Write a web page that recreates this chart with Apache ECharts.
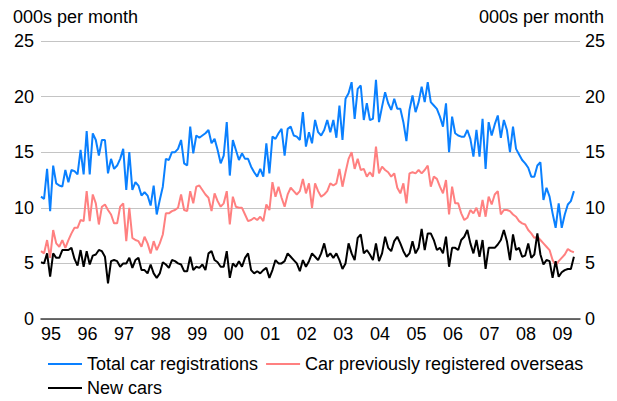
<!DOCTYPE html>
<html>
<head>
<meta charset="utf-8">
<script src="https://cdn.jsdelivr.net/npm/echarts@6/dist/echarts.min.js"></script>
<style>
  html, body { margin: 0; padding: 0; background: #fff; }
  #chart { width: 617px; height: 401px; }
</style>
</head>
<body>
<div id="chart"></div>
<script>
// year labels on the x axis (one every January)
const yearLabels = ['95', '96', '97', '98', '99', '00', '01', '02', '03', '04', '05', '06', '07', '08', '09']
const monthsShown = 178 // axis runs a little past the last observation

// 000s per month, Jan 1995 .. Aug 2009
const totalCars = [
  11.0, 10.8, 13.5, 9.7, 13.8, 12.2, 12.0, 11.9, 13.4, 12.3, 13.4, 13.3,
  13.0, 15.2, 13.0, 16.9, 13.0, 16.7, 16.1, 14.7, 16.1, 16.1, 13.1, 14.4,
  13.5, 13.8, 14.4, 15.3, 11.6, 15.0, 11.6, 12.3, 12.0, 11.1, 11.4, 11.1,
  10.2, 12.0, 9.4, 10.7, 11.9, 14.4, 14.3, 15.0, 15.0, 15.3, 16.1, 14.0,
  13.8, 17.3, 14.9, 16.5, 16.3, 16.5, 16.7, 17.0, 15.8, 16.2, 15.2, 14.0,
  14.7, 17.7, 12.9, 16.1, 15.2, 14.3, 14.9, 14.4, 14.4, 13.7, 13.2, 12.8,
  13.5, 12.8, 15.8, 13.1, 16.4, 16.2, 16.7, 17.1, 14.7, 17.1, 17.3, 16.5,
  16.4, 16.1, 18.6, 15.5, 16.8, 15.8, 17.9, 16.8, 16.5, 17.0, 17.9, 16.8,
  17.9, 16.3, 19.2, 16.1, 19.8, 20.3, 21.3, 18.0, 20.7, 21.0, 17.9, 19.4,
  17.9, 18.0, 21.5, 17.7, 19.1, 20.4, 19.4, 18.8, 19.8, 18.9, 18.9, 17.7,
  16.0, 18.8, 20.1, 18.6, 19.5, 20.9, 19.5, 21.3, 19.5, 19.2, 18.9, 18.2,
  17.3, 19.4, 15.0, 18.2, 16.7, 16.5, 16.4, 16.4, 17.0, 16.2, 14.6, 17.0,
  14.6, 18.0, 13.5, 17.7, 16.5, 17.5, 18.3, 16.3, 17.9, 17.0, 15.0, 17.3,
  15.3, 14.8, 14.3, 14.0, 13.6, 12.8, 12.8, 13.8, 14.1, 10.7, 11.8, 11.0,
  9.5, 8.2, 10.4, 8.2, 9.4, 10.3, 10.6, 11.5
]

const overseasCars = [
  6.1, 5.9, 7.1, 5.5, 8.0, 6.8, 6.5, 7.1, 6.4, 7.1, 7.7, 8.2,
  8.2, 8.9, 8.8, 11.5, 8.8, 11.2, 10.4, 8.5, 10.1, 10.3, 9.8, 9.4,
  8.6, 8.6, 10.1, 10.4, 7.0, 10.0, 7.3, 7.1, 7.0, 6.5, 7.4, 6.8,
  5.9, 7.0, 6.2, 6.8, 7.6, 9.5, 9.5, 9.7, 9.8, 10.0, 11.2, 9.8,
  9.7, 11.5, 10.4, 11.9, 12.0, 11.6, 11.2, 10.9, 9.7, 11.3, 10.6, 10.1,
  10.4, 11.5, 8.5, 11.0, 10.1, 10.0, 10.0, 9.4, 8.8, 8.9, 9.1, 8.9,
  9.2, 8.8, 10.3, 9.8, 12.3, 11.0, 11.9, 10.9, 10.1, 11.2, 11.8, 11.5,
  11.2, 11.5, 12.6, 11.3, 12.2, 10.0, 12.2, 11.5, 11.0, 11.2, 11.5, 12.2,
  12.0, 12.2, 13.5, 11.9, 13.2, 14.4, 15.0, 13.5, 14.4, 13.4, 13.5, 12.8,
  13.2, 12.8, 15.5, 13.1, 13.7, 13.4, 13.2, 12.8, 13.1, 11.8, 11.3, 12.2,
  10.4, 13.1, 13.2, 13.1, 13.4, 13.1, 13.4, 13.8, 11.9, 12.8, 12.6, 11.9,
  11.3, 12.5, 9.4, 11.9, 10.4, 10.4, 9.5, 8.9, 9.1, 9.8, 9.5, 10.0,
  9.2, 10.7, 9.2, 11.0, 10.3, 11.2, 11.5, 9.4, 9.8, 9.8, 9.7, 9.4,
  9.2, 8.8, 8.6, 8.5, 8.0, 7.7, 7.3, 7.4, 7.1, 6.8, 6.5, 6.2,
  5.3, 4.8, 5.2, 5.5, 5.8, 6.3, 6.1, 6.0
]

const newCars = [
  5.1, 5.0, 5.9, 3.8, 5.9, 5.5, 5.5, 6.2, 6.2, 6.2, 6.4, 5.4,
  4.8, 6.2, 4.7, 6.1, 4.9, 5.7, 5.8, 6.2, 6.1, 5.6, 3.2, 5.2,
  5.3, 5.2, 4.7, 5.0, 5.0, 5.5, 4.6, 5.3, 5.5, 4.4, 4.4, 4.1,
  4.9, 4.1, 3.7, 4.1, 5.1, 4.9, 4.6, 5.3, 5.2, 5.0, 4.9, 4.3,
  4.3, 5.6, 4.4, 4.7, 4.6, 4.9, 4.4, 5.9, 6.1, 5.3, 5.1, 4.7,
  4.7, 6.1, 3.7, 5.0, 4.7, 5.2, 4.7, 5.5, 5.9, 4.4, 4.1, 4.3,
  4.1, 4.4, 4.6, 3.7, 4.4, 5.3, 5.0, 5.0, 5.2, 5.9, 5.6, 5.3,
  5.0, 4.3, 5.3, 4.7, 5.2, 5.9, 5.6, 5.3, 5.9, 6.8, 5.6, 5.9,
  5.5, 5.9, 5.3, 4.5, 5.0, 6.8, 5.9, 5.3, 7.3, 7.6, 5.9, 6.2,
  5.8, 5.3, 6.8, 5.2, 5.9, 7.4, 6.4, 6.1, 7.0, 7.4, 6.8, 6.1,
  5.6, 5.9, 7.0, 5.9, 6.4, 8.1, 6.2, 7.7, 7.7, 7.1, 6.2, 6.4,
  5.9, 7.4, 4.7, 6.4, 6.4, 6.2, 7.1, 7.4, 8.0, 6.8, 5.9, 7.1,
  5.6, 7.1, 4.5, 6.4, 6.4, 6.4, 6.7, 7.1, 8.0, 7.0, 5.3, 7.6,
  6.2, 6.4, 5.6, 5.7, 6.8, 5.5, 5.8, 7.7, 5.8, 4.9, 5.3, 5.2,
  3.7, 5.2, 3.8, 4.2, 4.4, 4.5, 4.5, 5.6
]

const yTicks = { min: 0, max: 25, interval: 5 }

// month categories, label shown on each January
const months = []
yearLabels.forEach(y => {
  for (let m = 1; m <= 12; m++) months.push(y + '-' + m)
})
const categories = months.slice(0, monthsShown)

const font = "'Liberation Sans', Arial, sans-serif"
const textStyle = { color: '#000', fontSize: 18, fontFamily: font }

const yAxisBase = {
  type: 'value',
  min: yTicks.min,
  max: yTicks.max,
  interval: yTicks.interval,
  axisLine: { show: false },
  axisTick: { show: false }
}

const option = {
  animation: false,
  backgroundColor: '#fff',
  textStyle: { fontFamily: font },
  grid: { left: 41, right: 37, top: 41, bottom: 82 },
  graphic: [
    { type: 'text', left: 13, top: 8, style: { text: '000s per month', fill: '#000', font: '18px ' + font } },
    { type: 'text', right: 13, top: 8, style: { text: '000s per month', fill: '#000', font: '18px ' + font } }
  ],
  legend: [
    {
      data: ['Total car registrations', 'Car previously registered overseas'],
      left: 43,
      top: 350,
      icon: 'rect',
      itemWidth: 34,
      itemHeight: 2,
      itemGap: 8,
      textStyle: textStyle
    },
    {
      data: ['New cars'],
      left: 43,
      top: 374,
      icon: 'rect',
      itemWidth: 34,
      itemHeight: 2,
      textStyle: textStyle
    }
  ],
  xAxis: {
    type: 'category',
    data: categories,
    boundaryGap: false,
    axisLine: { lineStyle: { color: '#404040', width: 1.5 } },
    axisTick: { show: false },
    axisLabel: Object.assign({
      interval: (idx) => idx % 12 === 0,
      formatter: (val) => val.split('-')[0],
      align: 'left',
      margin: 6
    }, textStyle),
    splitLine: { show: false }
  },
  yAxis: [
    Object.assign({}, yAxisBase, {
      position: 'left',
      axisLabel: Object.assign({ margin: 7 }, textStyle),
      splitLine: { show: true, lineStyle: { color: '#c4c4c4', width: 1 } }
    }),
    Object.assign({}, yAxisBase, {
      position: 'right',
      axisLabel: Object.assign({ margin: 5 }, textStyle),
      splitLine: { show: false }
    })
  ],
  series: [
    {
      name: 'Total car registrations',
      type: 'line',
      data: totalCars,
      showSymbol: false,
      lineStyle: { color: '#0a80ff', width: 2 },
      itemStyle: { color: '#0a80ff' }
    },
    {
      name: 'Car previously registered overseas',
      type: 'line',
      data: overseasCars,
      showSymbol: false,
      lineStyle: { color: '#ff8080', width: 2 },
      itemStyle: { color: '#ff8080' }
    },
    {
      name: 'New cars',
      type: 'line',
      data: newCars,
      showSymbol: false,
      lineStyle: { color: '#000', width: 2 },
      itemStyle: { color: '#000' }
    }
  ]
}

const chart = echarts.init(document.getElementById('chart'), null, { renderer: 'svg' })
chart.setOption(option)
window.addEventListener('resize', () => chart.resize())
</script>
</body>
</html>
